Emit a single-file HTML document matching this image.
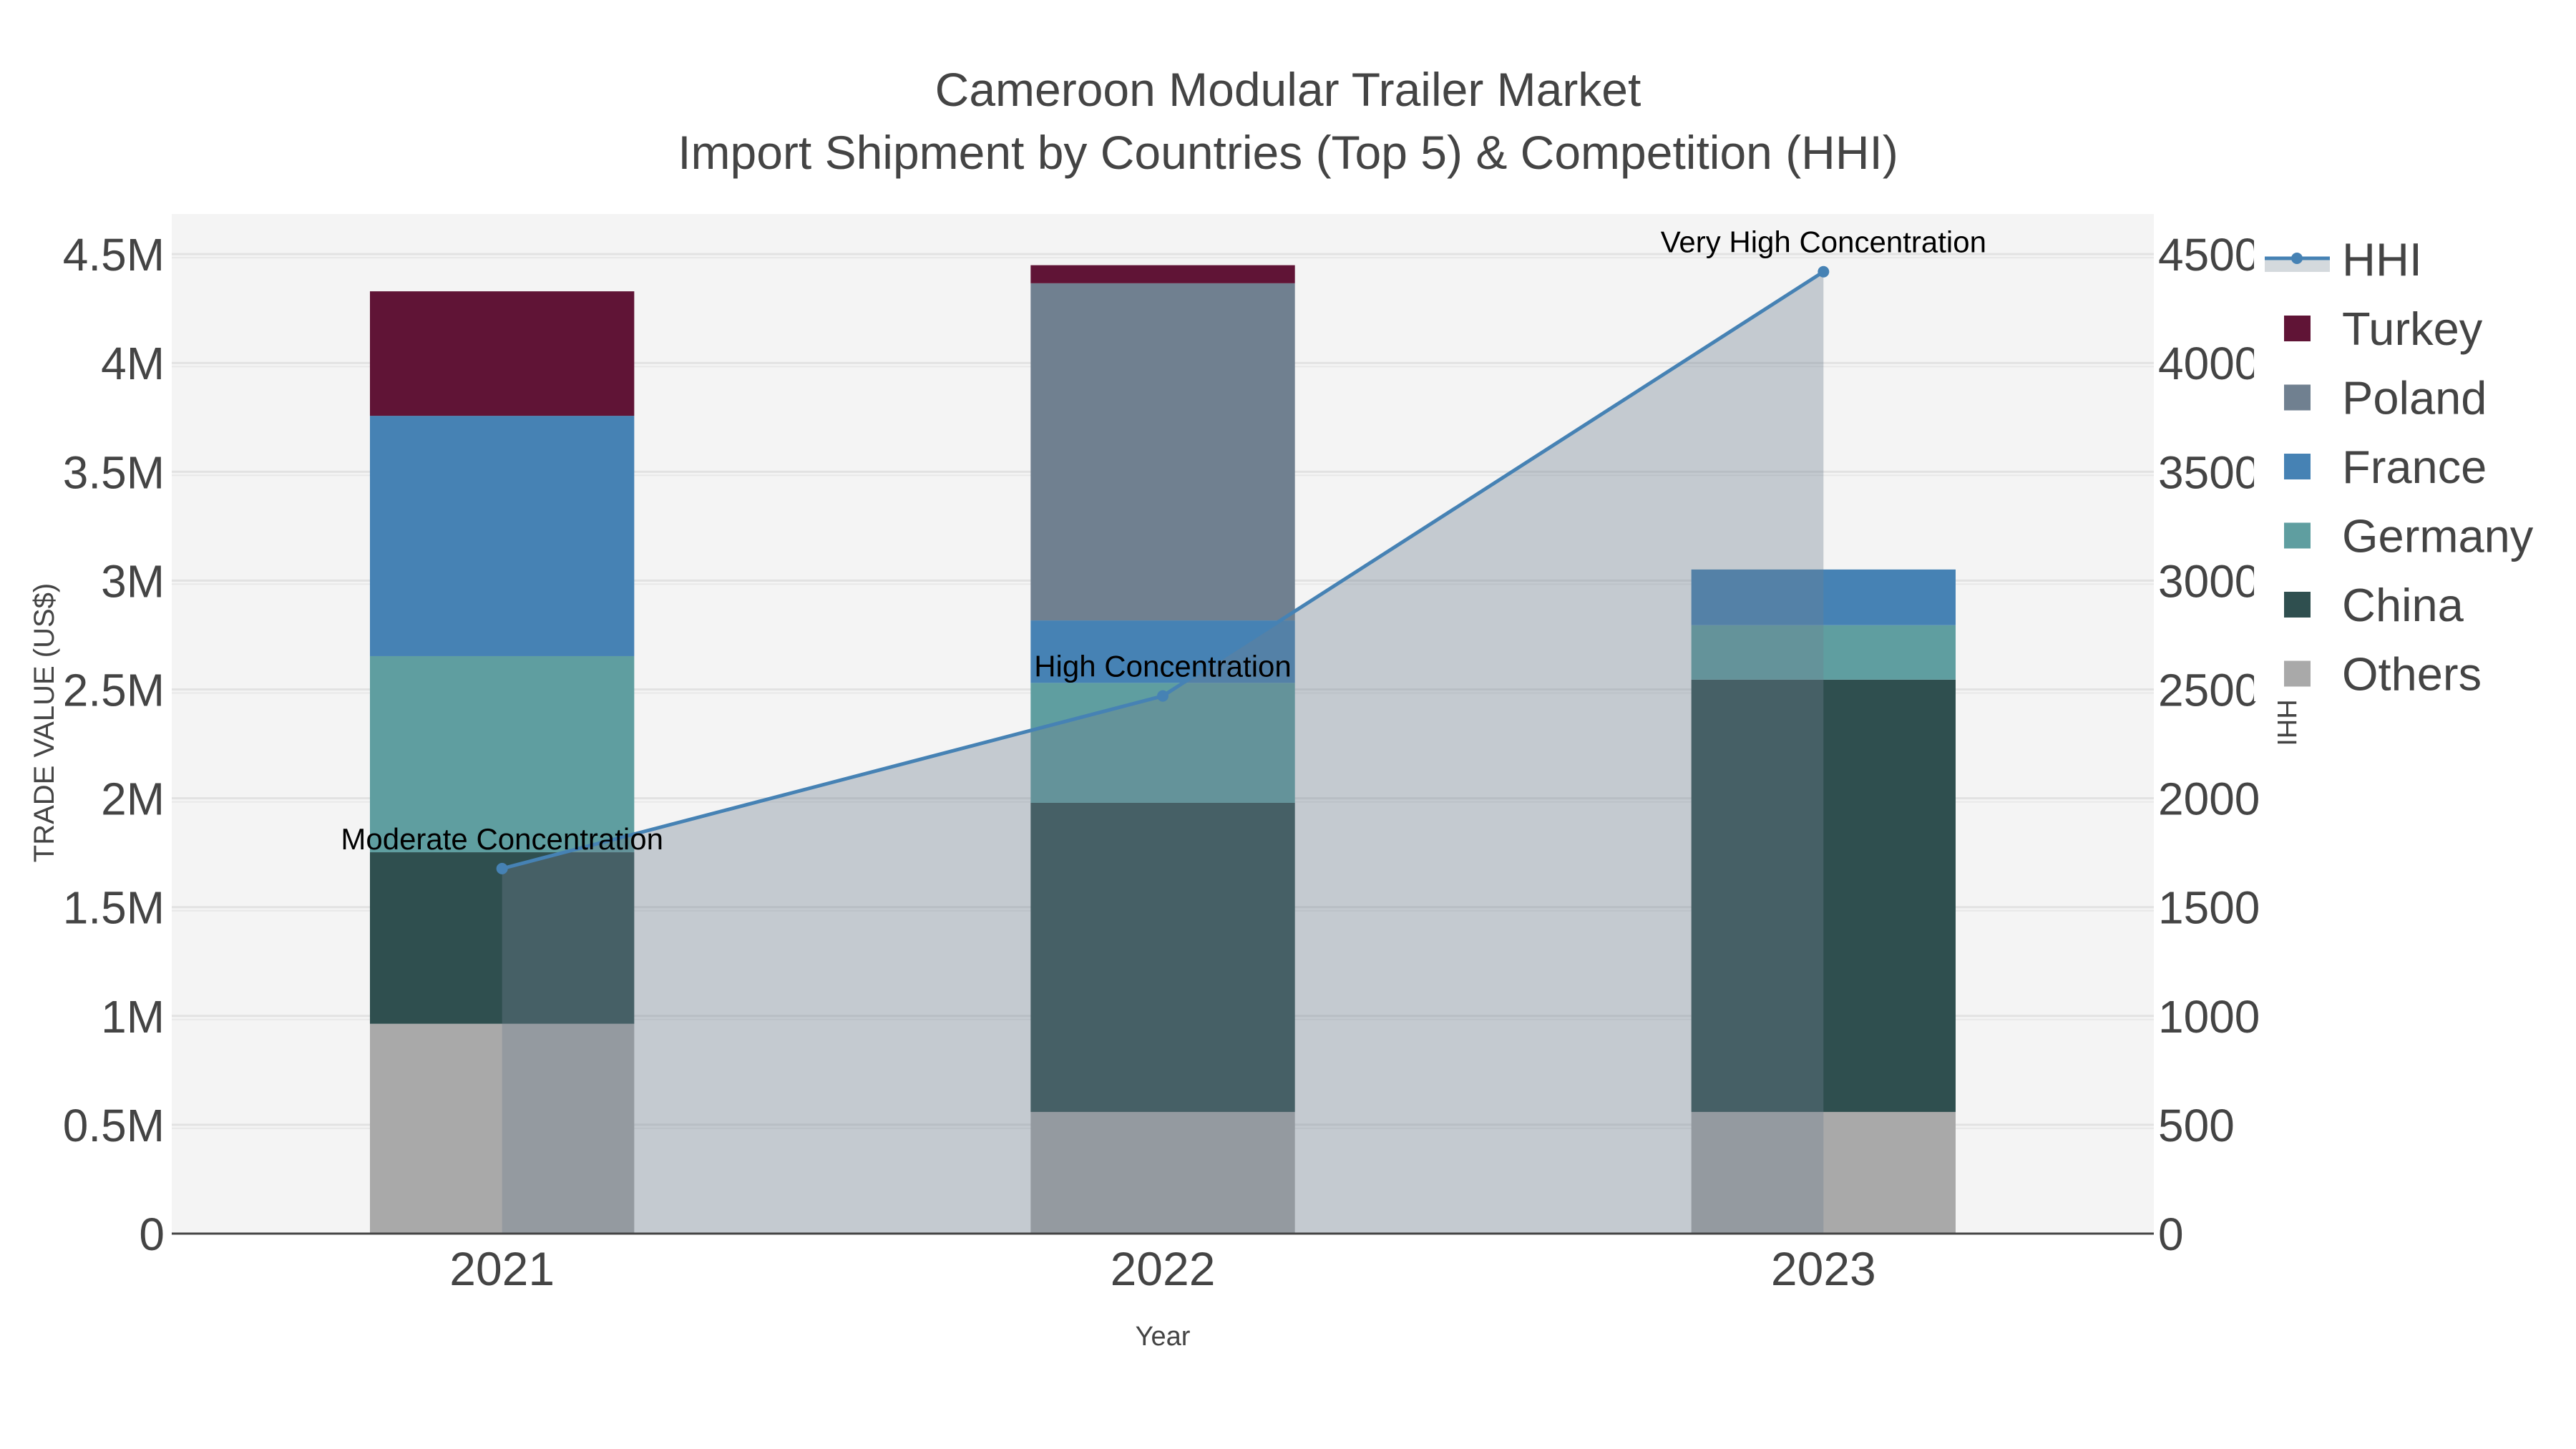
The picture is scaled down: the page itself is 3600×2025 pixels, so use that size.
<!DOCTYPE html>
<html><head><meta charset="utf-8"><style>
html,body{margin:0;padding:0;background:#fff;}
svg{display:block;font-family:"Liberation Sans",Arial,sans-serif;}
</style></head><body>
<svg id="chart" width="3600" height="2025" viewBox="0 0 3600 2025"></svg>
<script>
const years = ["2021","2022","2023"];
const others  = [964000, 559000, 559000];
const china   = [788000, 1420000, 1986000];
const germany = [901000, 551000, 250000];
const france  = [1104000, 287000, 256000];
const poland  = [0, 1549000, 0];
const turkey  = [572000, 83000, 0];
const hhi = [1677, 2470, 4419];
const hhiLabels = ["Moderate Concentration","High Concentration","Very High Concentration"];
const leftTicks = [0,500000,1000000,1500000,2000000,2500000,3000000,3500000,4000000,4500000];
const leftTickLabels = ["0","0.5M","1M","1.5M","2M","2.5M","3M","3.5M","4M","4.5M"];
const rightTicks = [0,500,1000,1500,2000,2500,3000,3500,4000,4500];
const seriesNames = ["Others","China","Germany","France","Poland","Turkey"];
const seriesColors = ["#a9a9a9","#2f4f4f","#5f9ea0","#4682b4","#708090","#601436"];

const NS="http://www.w3.org/2000/svg";
const svg=document.getElementById('chart');
function mk(tag,attrs,parent){const e=document.createElementNS(NS,tag);for(const k in attrs)e.setAttribute(k,attrs[k]);(parent||svg).appendChild(e);return e;}
const L=240,R=3010,T=299,B=1724;
const pxPerM=304.2/1e6;
function yL(v){return B - v*pxPerM;}
function yR(v){return B - v*0.3042;}
const step=(R-L)/years.length;
function xC(i){return L+step*(i+0.5);}
const bw=step*0.4;

let bg=mk('rect',{x:L,y:T,width:R-L,height:B-T,fill:'#f4f4f4'});



leftTicks.forEach((t,i)=>{
  if(i===0)return;
  const g=mk('line',{x1:L,x2:R,y1:yL(t),y2:yL(t),stroke:'#e2e2e2','stroke-width':3});
  
  
  const g2=mk('line',{x1:L,x2:R,y1:yR(rightTicks[i])+5,y2:yR(rightTicks[i])+5,stroke:'#e8e8e8','stroke-width':2});
  
  
});

const series=[others,china,germany,france,poland,turkey];
years.forEach((y,i)=>{
  let base=0;
  series.forEach((s,k)=>{
    const v=s[i]; if(!v){return;}
    const r=mk('rect',{x:xC(i)-bw/2,y:yL(base+v),width:bw,height:yL(base)-yL(base+v),fill:seriesColors[k]});
    
    
    base+=v;
  });
});

let d='M'+xC(0)+','+B;
hhi.forEach((v,i)=>{d+=' L'+xC(i)+','+yR(v);});
d+=' L'+xC(hhi.length-1)+','+B+' Z';
const area=mk('path',{d:d,fill:'rgba(112,128,144,0.36)'});


const pts=hhi.map((v,i)=>xC(i)+','+yR(v)).join(' ');
const line=mk('polyline',{points:pts,fill:'none',stroke:'#4682b4','stroke-width':5});


hhi.forEach((v,i)=>{
  const c=mk('circle',{cx:xC(i),cy:yR(v),r:8,fill:'#4682b4'});
  
  
  const t=mk('text',{x:xC(i),y:yR(v)-27,'text-anchor':'middle','font-size':42,fill:'#000'});
  t.textContent=hhiLabels[i];
  
  
});

const zl=mk('line',{x1:L,x2:R,y1:B,y2:B,stroke:'#444','stroke-width':3});



leftTicks.forEach((t,i)=>{
  const e=mk('text',{x:L-10,y:yL(t)+23,'text-anchor':'end','font-size':64,fill:'#444'});
  e.textContent=leftTickLabels[i];
  
  
  const r=mk('text',{x:R+6,y:yR(rightTicks[i])+23,'text-anchor':'start','font-size':64,fill:'#444'});
  r.textContent=String(rightTicks[i]);
  
  
});
years.forEach((y,i)=>{
  const e=mk('text',{x:xC(i),y:1796,'text-anchor':'middle','font-size':66,fill:'#444'});
  e.textContent=y;
  
  
});

const lg=mk('g',{});


const lb=mk('rect',{x:3150,y:320,width:450,height:660,fill:'#fff'},lg);


const lf=mk('rect',{x:3165,y:360,width:91,height:20,fill:'rgba(112,128,144,0.3)'},lg);


const ll=mk('line',{x1:3165,x2:3256,y1:361,y2:361,stroke:'#4682b4','stroke-width':5},lg);


const lc=mk('circle',{cx:3210,cy:361,r:8,fill:'#4682b4'},lg);


const lt=mk('text',{x:3273,y:385,'font-size':65,fill:'#444'},lg);
lt.textContent='HHI';


const legOrder=[5,4,3,2,1,0];
legOrder.forEach((k,j)=>{
  const cy=459+j*96.5;
  const s=mk('rect',{x:3192,y:cy-18,width:37,height:36,fill:seriesColors[k]},lg);
  
  
  const t=mk('text',{x:3273,y:cy+23,'font-size':65,fill:'#444'},lg);
  t.textContent=seriesNames[k];
  
  
});
</script>
<div style="position:absolute;left:0;top:0;width:3600px;height:2025px;pointer-events:none;">
<svg width="3600" height="2025" style="position:absolute;left:0;top:0;font-family:'Liberation Sans',Arial,sans-serif;">
<text x="1800" y="148" text-anchor="middle" font-size="66" fill="#444">Cameroon Modular Trailer Market</text>
<text x="1800" y="236" text-anchor="middle" font-size="66" fill="#444">Import Shipment by Countries (Top 5) &amp; Competition (HHI)</text>
<text transform="translate(75,1010) rotate(-90)" text-anchor="middle" font-size="40" fill="#444">TRADE VALUE (US$)</text>
<text x="1625" y="1880" text-anchor="middle" font-size="38" fill="#444">Year</text>
<text transform="translate(3183,1010) rotate(90)" text-anchor="middle" font-size="38" fill="#444">HHI</text>
</svg>
</div>
</body></html>
